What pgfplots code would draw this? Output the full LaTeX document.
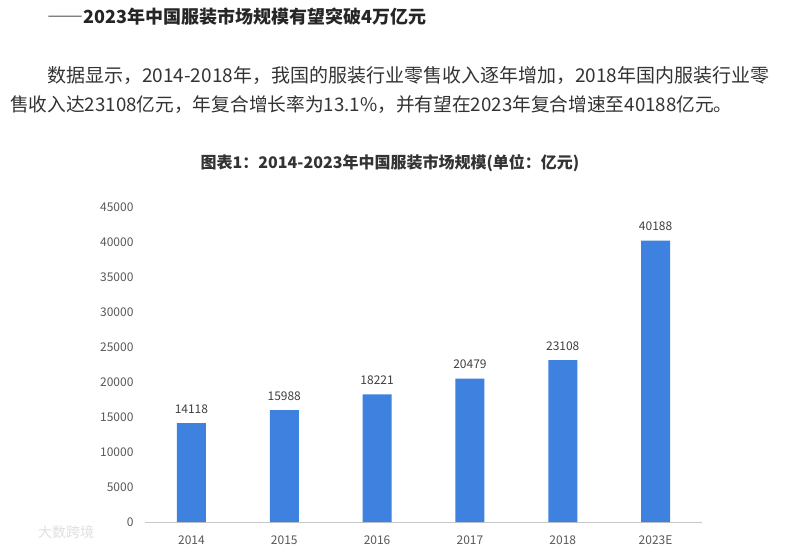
\documentclass[border=0pt]{standalone}
\usepackage{fontspec}
\setmainfont{Noto Sans CJK SC}
\newfontfamily\fwid[RawFeature=+fwid, BoldFont={Noto Sans CJK SC Bold}]{Noto Sans CJK SC}
\usepackage{pgfplots}
\pgfplotsset{compat=1.18}

\definecolor{barblue}{RGB}{62,129,222}
\definecolor{ticktext}{RGB}{89,89,89}
\definecolor{bodytext}{RGB}{51,51,51}

\begin{document}
\begin{tikzpicture}[x=1pt,y=1pt]
\path[use as bounding box, fill=white] (0,0) rectangle (790,-551);

% heading and paragraph above the chart
\node[anchor=west, inner sep=0, font=\fontsize{18}{20}\selectfont\bfseries, text=black!85]
  at (47,-17) {{\fwid\bfseries ——}2023年中国服装市场规模有望突破4万亿元};
\node[anchor=west, inner sep=0, font=\fontsize{19}{22}\selectfont, text=bodytext]
  at (47,-75) {数据显示，2014-2018年，我国的服装行业零售收入逐年增加，2018年国内服装行业零};
\node[anchor=west, inner sep=0, font=\fontsize{18.7}{22}\selectfont, text=bodytext]
  at (10,-105) {售收入达23108亿元，年复合增长率为13.1\%，并有望在2023年复合增速至40188亿元。};

% chart title
\node[inner sep=0, font=\fontsize{16}{18}\selectfont\bfseries, text=bodytext]
  at (390,-163) {图表1：2014-2023年中国服装市场规模(单位：亿元)};

% faint watermark
\node[anchor=west, inner sep=0, font=\fontsize{14}{16}\selectfont, text=black!12]
  at (38,-532) {大数跨境};

\begin{axis}[
    at={(145pt,-522pt)}, anchor=south west,
    scale only axis,
    width=557pt, height=315pt,
    ybar, bar width=29pt,
    xmin=-0.5, xmax=5.5,
    ymin=0, ymax=45000,
    xtick=data,
    xticklabels={2014,2015,2016,2017,2018,2023E},
    ytick={0,5000,...,45000},
    scaled y ticks=false,
    yticklabel style={/pgf/number format/1000 sep={}, xshift=-8pt},
    /pgf/number format/assume math mode=true,
    axis y line*=left, y axis line style={draw=none},
    axis x line*=bottom, x axis line style={draw=black!22, line width=0.8pt},
    major tick length=0pt,
    tick label style={font=\fontsize{12}{14}\selectfont, text=ticktext},
    xticklabel style={yshift=-10pt},
    nodes near coords,
    every node near coord/.append style={font=\fontsize{12}{14}\selectfont, text=black!75, yshift=6pt, /pgf/number format/1000 sep={}},
]
\addplot[fill=barblue, draw=none] coordinates {(0,14118) (1,15988) (2,18221) (3,20479) (4,23108) (5,40188)};
\end{axis}
\end{tikzpicture}
\end{document}
